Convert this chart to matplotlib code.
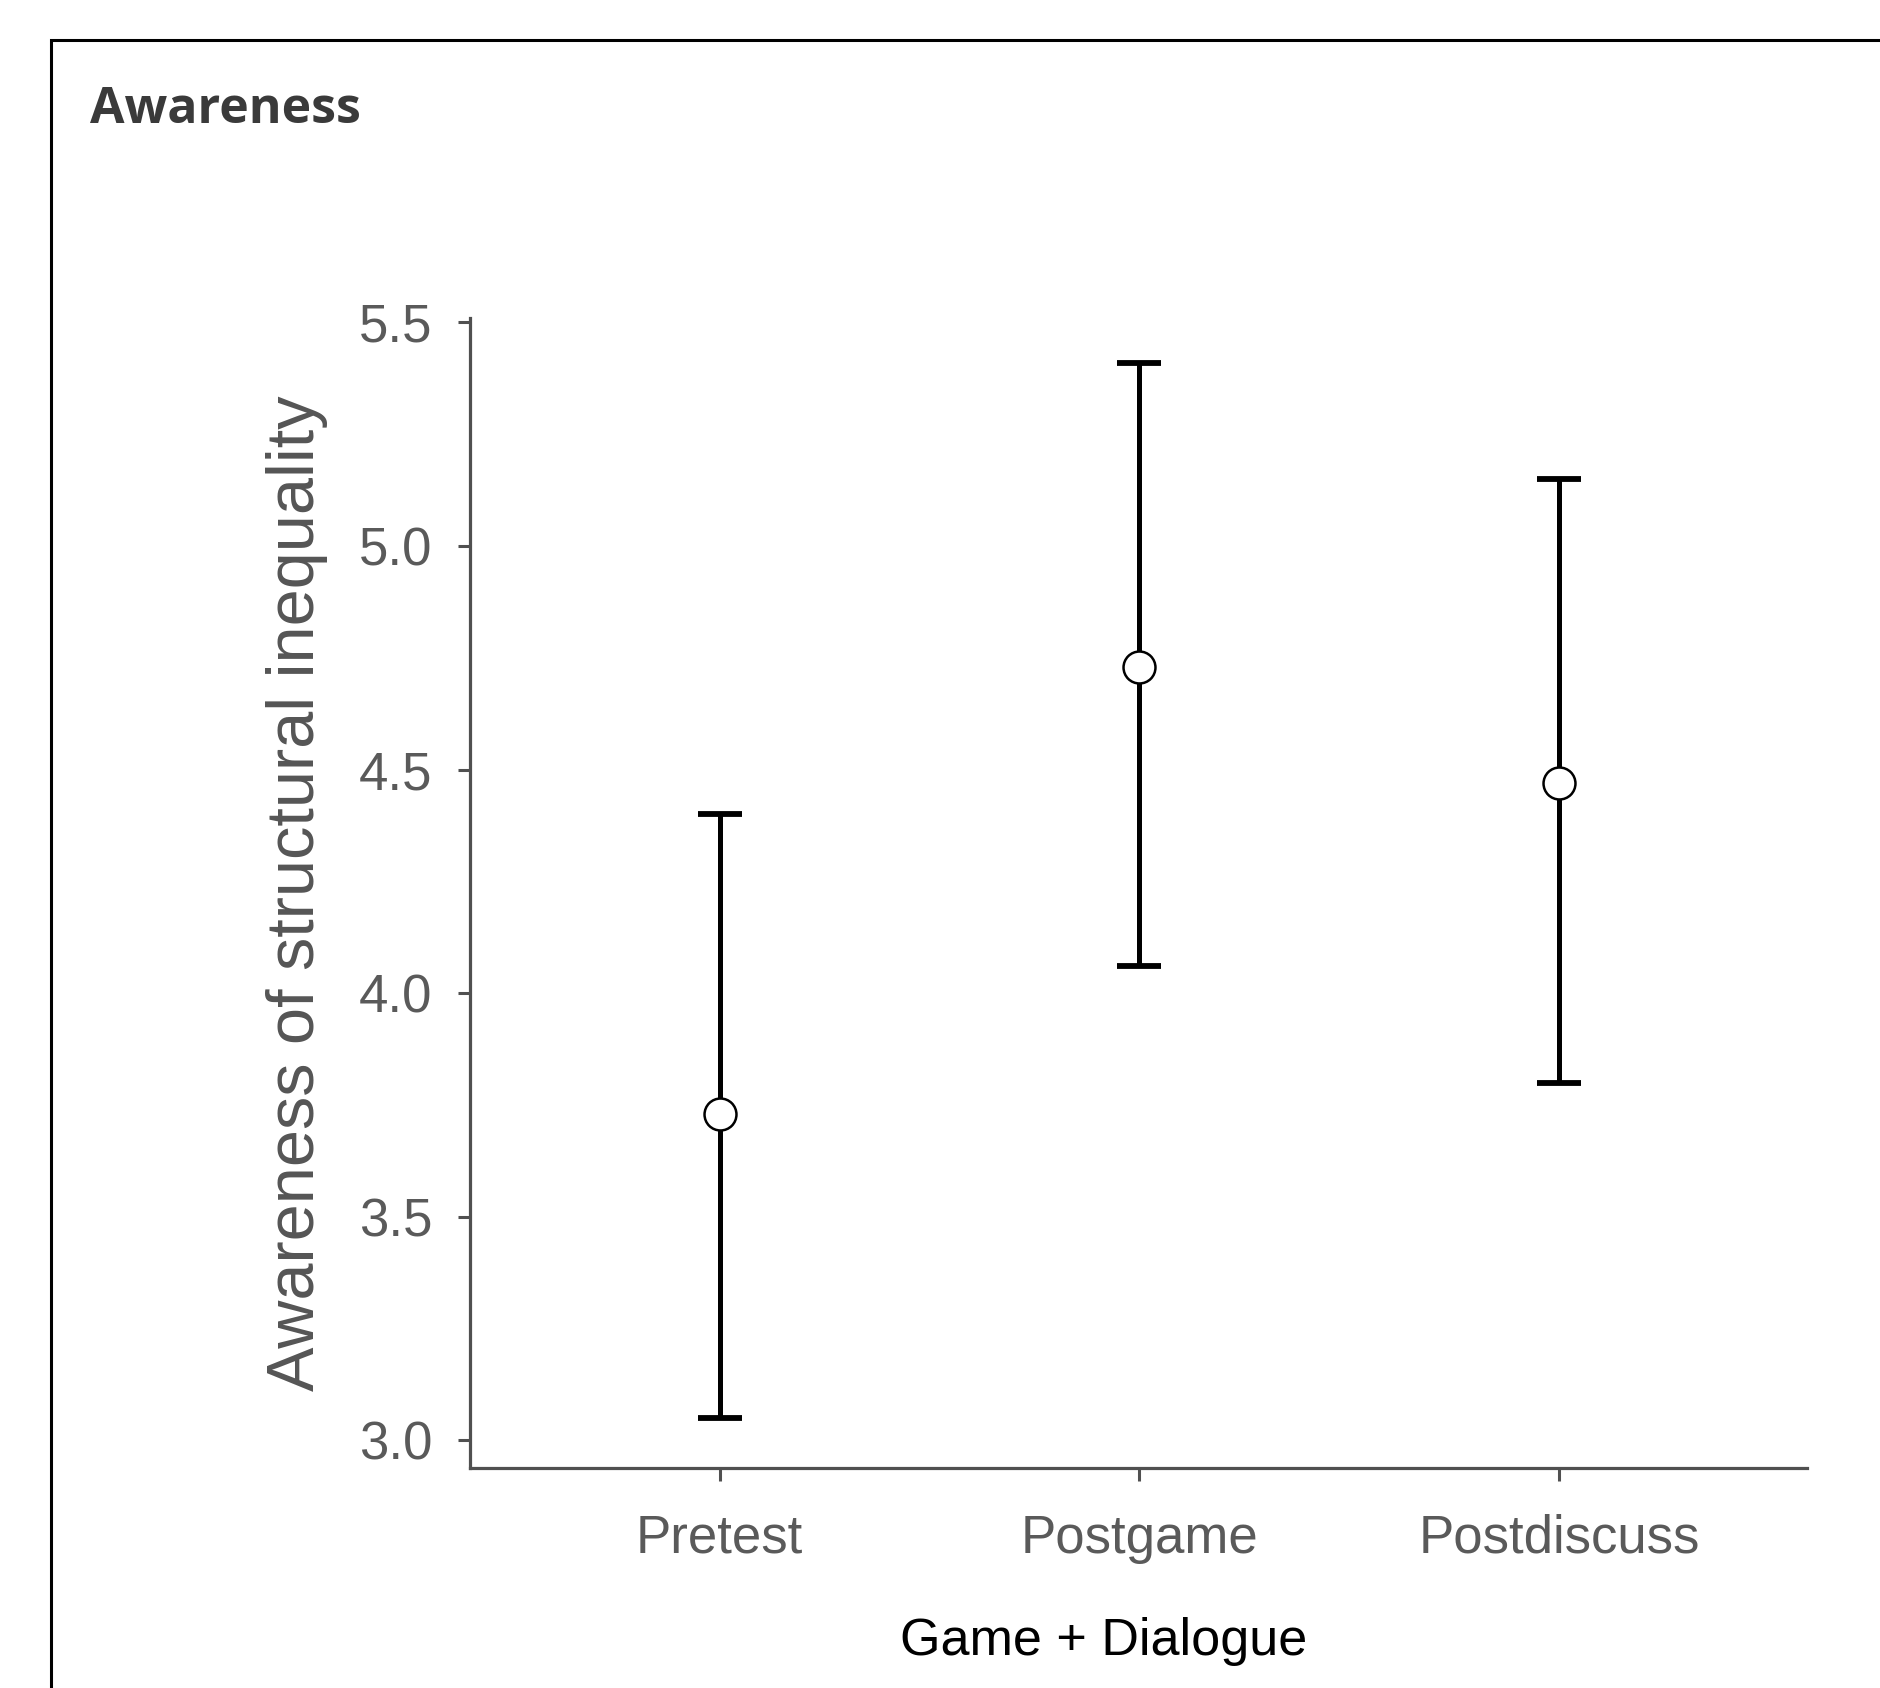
import matplotlib.pyplot as plt
from matplotlib.patches import Rectangle

# values
conditions = ['Pretest', 'Postgame', 'Postdiscuss']
means = [3.73, 4.73, 4.47]
lower = [3.05, 4.06, 3.80]
upper = [4.40, 5.41, 5.15]
y_ticks = [3.0, 3.5, 4.0, 4.5, 5.0, 5.5]

plt.rcParams['font.family'] = ['Liberation Sans', 'DejaVu Sans']

fig = plt.figure(figsize=(18.8, 16.88), dpi=100)
fig.patch.set_facecolor('white')

# outer frame (runs off the right and bottom edge)
fig.patches.append(Rectangle((51 / 1880, -0.05), 1.1, 1 - 40 / 1688 + 0.05,
                             transform=fig.transFigure, fill=False,
                             edgecolor='black', linewidth=2.2))

ax = fig.add_axes([0.25, 0.1303, 0.711, 0.6813])

x = list(range(len(conditions)))
err_lo = [m - l for m, l in zip(means, lower)]
err_hi = [u - m for m, u in zip(means, upper)]
ax.errorbar(x, means, yerr=[err_lo, err_hi], fmt='none', ecolor='black',
            elinewidth=3.6, capsize=15.5, capthick=4.2, zorder=2)
ax.plot(x, means, 'o', markersize=23, markerfacecolor='white',
        markeredgecolor='black', markeredgewidth=1.8, zorder=3)

ax.set_xlim(-0.595, 2.59)
ax.set_ylim(2.938, 5.51)
ax.set_xticks(x)
ax.set_xticklabels(conditions)
ax.set_yticks(y_ticks)
ax.set_yticklabels(['%.1f' % t for t in y_ticks])

for s in ['top', 'right']:
    ax.spines[s].set_visible(False)
for s in ['left', 'bottom']:
    ax.spines[s].set_color('#505050')
    ax.spines[s].set_linewidth(2.3)

ax.tick_params(axis='both', colors='#505050', labelcolor='#5a5a5a',
               labelsize=38, length=9, width=2.2)
ax.tick_params(axis='x', pad=24)
ax.tick_params(axis='y', pad=18)

ax.set_ylabel('Awareness of structural inequality', fontsize=48,
              color='#555555', labelpad=22)

fig.text(90 / 1880, 1 - 110 / 1688, 'Awareness', fontsize=36,
         fontweight='bold', color='#3a3a3a', family=['Open Sans', 'DejaVu Sans'],
         ha='left', va='center')
fig.text(1104 / 1880, 1 - 1641 / 1688, 'Game + Dialogue', fontsize=37.5,
         color='black', ha='center', va='center')

fig.savefig('out.png', dpi=100)
